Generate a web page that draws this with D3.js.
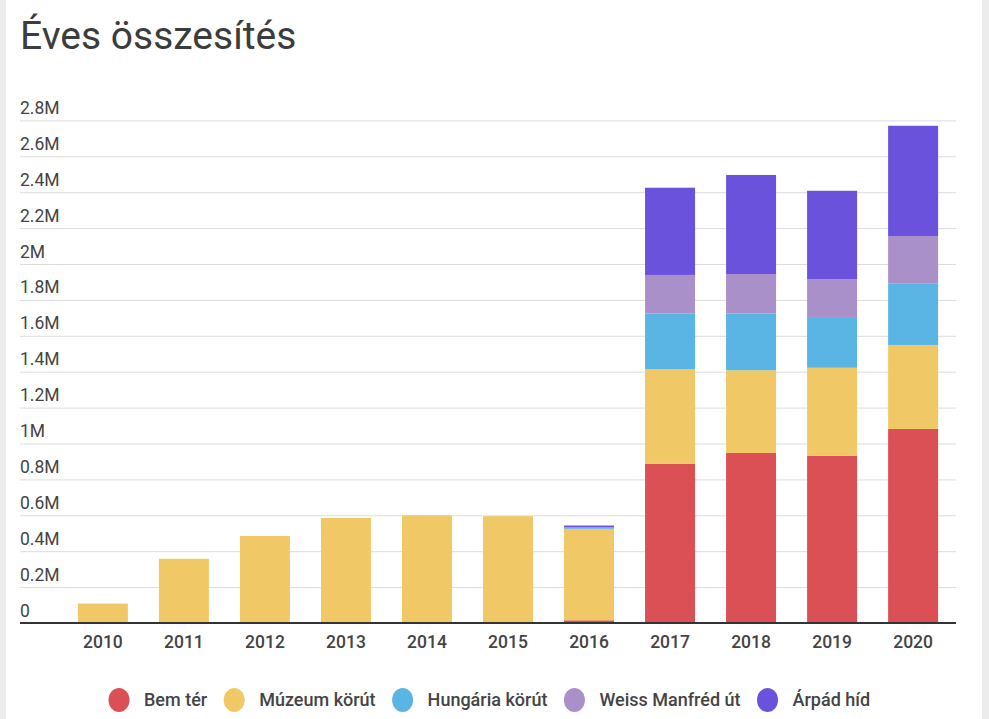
<!DOCTYPE html>
<html>
<head>
<meta charset="utf-8">
<script src="https://cdn.jsdelivr.net/npm/d3@7"></script>
<style>
  html, body { margin: 0; padding: 0; background: #ececec; }
  svg { display: block; }
</style>
</head>
<body>
<svg id="chart" width="989" height="719"></svg>
<script>
// ---- data ----
const years = ["2010","2011","2012","2013","2014","2015","2016","2017","2018","2019","2020"];
const seriesNames = ["Bem tér","Múzeum körút","Hungária körút","Weiss Manfréd út","Árpád híd"];
const seriesColors = ["#DB5055","#F0C966","#5BB5E4","#AA90C9","#6B52DC"];
const bemTer        = [0, 0, 0, 0, 0, 0, 15000, 886000, 947000, 932000, 1081000];
const muzeumKorut   = [108000, 358000, 485000, 585000, 600000, 595000, 507000, 529000, 461000, 490000, 468000];
const hungariaKorut = [0, 0, 0, 0, 0, 0, 6000, 310000, 317000, 283000, 341000];
const weissManfred  = [0, 0, 0, 0, 0, 0, 6000, 214000, 219000, 210000, 266000];
const arpadHid      = [0, 0, 0, 0, 0, 0, 9000, 486000, 552000, 493000, 614000];
const yTicks = [0,200000,400000,600000,800000,1000000,1200000,1400000,1600000,1800000,2000000,2200000,2400000,2600000,2800000];
const titleText = "Éves összesítés";

// ---- build ----
const seriesValues = [bemTer, muzeumKorut, hungariaKorut, weissManfred, arpadHid];
const table = years.map((y, i) => {
  const row = { year: y };
  seriesNames.forEach((s, k) => row[s] = seriesValues[k][i]);
  return row;
});
const stacked = d3.stack().keys(seriesNames)(table);

const svg = d3.select("#chart");
svg.append("rect").attr("x", 6).attr("y", 0).attr("width", 976).attr("height", 719).attr("fill", "#fff");

const font = "Roboto, 'Noto Sans', sans-serif";
const textColor = "#444";

svg.append("text")
  .attr("x", 20).attr("y", 49)
  .attr("font-family", font).attr("font-size", 39)
  .attr("fill", "#3c3c3c")
  .text(titleText);

const y = d3.scaleLinear().domain([0, 2800000]).range([623, 120.4]);
const x = d3.scaleBand().domain(years).range([62.5, 953.5]).paddingInner(0.383).paddingOuter(0.19);
const color = d3.scaleOrdinal().domain(seriesNames).range(seriesColors);

const fmt = v => v === 0 ? "0" : (+(v / 1e6).toFixed(1)) + "M";

// gridlines
const grid = svg.append("g").attr("transform", "translate(20,0)")
  .call(d3.axisRight(y).tickValues(yTicks.filter(v => v > 0)).tickSize(936).tickFormat(""));
grid.select(".domain").remove();
grid.selectAll(".tick line").attr("stroke", "#dcdcdc").attr("stroke-width", 1);

// y labels
const yl = svg.append("g").attr("transform", "translate(20,0)")
  .call(d3.axisRight(y).tickValues(yTicks).tickSize(0).tickPadding(0).tickFormat(fmt));
yl.select(".domain").remove();
yl.selectAll(".tick text")
  .attr("font-family", font).attr("font-size", 17.5).attr("fill", textColor)
  .attr("text-anchor", "start").attr("dy", "-7px").attr("x", 0);

// bars
svg.append("g").selectAll("g").data(stacked).join("g")
  .attr("fill", d => color(d.key))
  .selectAll("rect").data(d => d).join("rect")
  .attr("x", d => x(d.data.year))
  .attr("width", x.bandwidth())
  .attr("y", d => y(d[1]))
  .attr("height", d => Math.max(0, y(d[0]) - y(d[1])));

// x axis
const xa = svg.append("g").attr("transform", "translate(0,623)")
  .call(d3.axisBottom(x).tickSize(0).tickPadding(13));
xa.select(".domain").remove();
xa.selectAll(".tick text")
  .attr("font-family", font).attr("font-size", 17.5).attr("fill", textColor).attr("font-weight", 500);
svg.append("line").attr("x1", 20).attr("x2", 956).attr("y1", 623).attr("y2", 623)
  .attr("stroke", "#333").attr("stroke-width", 2);

// legend
const legend = svg.append("g").attr("transform", "translate(0,700)");
let cx = 119;
seriesNames.forEach((s, i) => {
  const g = legend.append("g");
  g.append("ellipse").attr("cx", cx).attr("cy", 0).attr("rx", 10.5).attr("ry", 12).attr("fill", color(s));
  const t = g.append("text").attr("x", cx + 25).attr("y", 6)
    .attr("font-family", font).attr("font-size", 18).attr("font-weight", 500).attr("fill", textColor).text(s);
  const w = t.node().getComputedTextLength();
  cx = cx + 25 + w + 27;
});
</script>
</body>
</html>
